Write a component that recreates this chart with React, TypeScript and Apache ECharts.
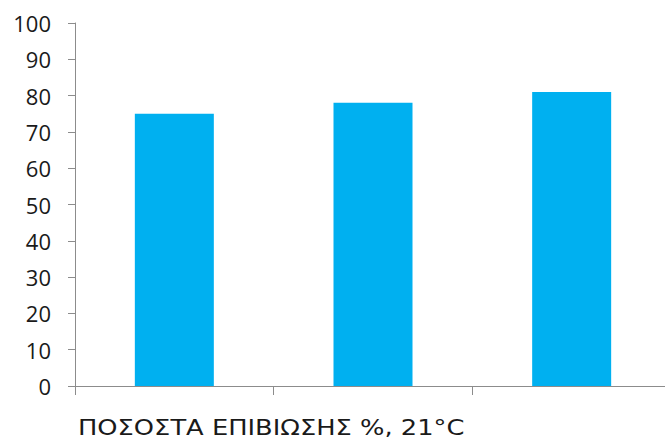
import React, { useEffect, useRef } from "react";
import * as echarts from "echarts";

// Survival rate per group at 21°C
const categories: string[] = ["A", "B", "C"];
const survivalValues: number[] = [75, 78, 81];
const yTicks = { min: 0, max: 100, interval: 10 };
const chartTitle = "ΠΟΣΟΣΤΑ ΕΠΙΒΙΩΣΗΣ %, 21°C";

export default function App() {
  const ref = useRef<HTMLDivElement>(null);

  useEffect(() => {
    if (!ref.current) return;
    const chart = echarts.init(ref.current, undefined, { renderer: "svg" });
    const axisGray = "#8c8c8c";
    chart.setOption({
      animation: false,
      backgroundColor: "#ffffff",
      graphic: [
        {
          // widely tracked caption under the plot
          type: "text",
          x: 78,
          y: 428,
          scaleX: 1.17,
          style: {
            text: chartTitle,
            fontFamily: "DejaVu Sans",
            fontSize: 22,
            lineHeight: 20,
            fill: "#1a1a1a",
            verticalAlign: "middle",
            align: "left",
          },
        },
      ],
      // the value axis runs slightly past the right edge of the view
      grid: { left: 75, top: 23, right: 0, height: 363 },
      xAxis: {
        type: "category",
        data: categories,
        boundaryGap: true,
        axisLine: { lineStyle: { color: axisGray, width: 1 } },
        axisTick: { show: true, length: 9, alignWithLabel: false, lineStyle: { color: axisGray } },
        axisLabel: { show: false },
        splitLine: { show: false },
      },
      yAxis: {
        type: "value",
        min: yTicks.min,
        max: yTicks.max,
        interval: yTicks.interval,
        axisLine: { show: true, lineStyle: { color: axisGray, width: 1 } },
        axisTick: { show: true, length: 7, lineStyle: { color: axisGray } },
        axisLabel: {
          margin: 24,
          fontFamily: "Open Sans",
          fontSize: 22,
          color: "#1a1a1a",
        },
        splitLine: { show: false },
      },
      series: [
        {
          type: "bar",
          data: survivalValues,
          barWidth: 79,
          itemStyle: { color: "#00b0f0" },
        },
      ],
    });
    return () => chart.dispose();
  }, []);

  return (
    <div
      ref={ref}
      style={{ position: "fixed", left: 0, top: 0, width: 671, height: 439 }}
    />
  );
}
